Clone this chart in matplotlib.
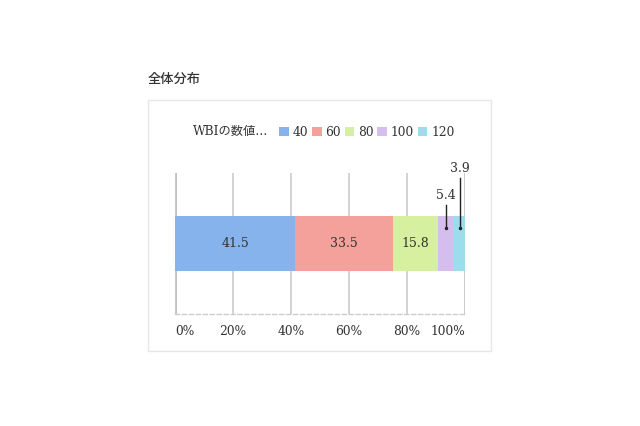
import matplotlib.pyplot as plt
from matplotlib.patches import Rectangle

plt.rcParams["font.family"] = ["DejaVu Serif", "Noto Sans CJK JP"]

# data
categories = ["40", "60", "80", "100", "120"]
values = [41.5, 33.5, 15.8, 5.4, 3.9]
colors = ["#86b3eb", "#f4a19b", "#d7f0a0", "#d5bdee", "#9ddcec"]
tick_labels = ["0%", "20%", "40%", "60%", "80%", "100%"]
title = "全体分布"
legend_title = "WBIの数値…"

fig = plt.figure(figsize=(6.4, 4.26), dpi=100)

# card frame
fig.patches.append(Rectangle((148 / 640, 1 - 351 / 426), 343 / 640, 251 / 426,
                             transform=fig.transFigure, fill=False,
                             edgecolor="#e6e6e6", linewidth=1))
fig.text(148 / 640, 1 - 79 / 426, title, fontsize=9.5, color="#333333",
         family=["Noto Sans CJK JP"], fontweight="medium", va="center")

ax = fig.add_axes([175 / 640, 1 - 314 / 426, 290 / 640, 141 / 426])
ax.set_xlim(0, 100)
ax.set_ylim(0, 1)

left = 0
for cat, val, col in zip(categories, values, colors):
    ax.barh(0.5, val, left=left, height=0.39, color=col, label=cat, zorder=3)
    center = left + val / 2
    if val > 10:
        ax.text(center, 0.5, f"{val}", ha="center", va="center", fontsize=9,
                color="#333333", zorder=4)
    left += val

# labels for small segments with leader lines
left_small = values[0] + values[1] + values[2]
c1 = left_small + values[3] / 2
c2 = left_small + values[3] + values[4] / 2
ax.plot([c1, c1], [0.61, 0.775], color="#222222", lw=1, zorder=5, clip_on=False)
ax.plot([c1], [0.61], marker="o", ms=1.5, color="#222222", zorder=5)
ax.text(c1, 0.84, f"{values[3]}", ha="center", va="center", fontsize=9, color="#333333")
ax.plot([c2, c2], [0.61, 0.965], color="#222222", lw=1, zorder=5, clip_on=False)
ax.plot([c2], [0.61], marker="o", ms=1.5, color="#222222", zorder=5, clip_on=False)
ax.text(c2, 1.03, f"{values[4]}", ha="center", va="center", fontsize=9,
        color="#333333", clip_on=False)

ticks = [0, 20, 40, 60, 80, 100]
ax.set_xticks(ticks)
ax.set_xticklabels(tick_labels, fontsize=8.8, color="#333333")
labels = ax.get_xticklabels()
labels[0].set_ha("left")
labels[-1].set_ha("right")
ax.tick_params(axis="x", length=0, pad=8)
ax.set_yticks([])
ax.grid(axis="x", color="#cccccc", linewidth=1.2, zorder=0)
for side in ["top", "right", "left"]:
    ax.spines[side].set_visible(False)
ax.axvline(0, color="#bbbbbb", lw=2, zorder=1)
ax.axvline(100, color="#bbbbbb", lw=2, zorder=1)
ax.spines["bottom"].set_color("#cccccc")
ax.spines["bottom"].set_linestyle((0, (3, 2)))
ax.spines["bottom"].set_linewidth(1)

fig.text(193 / 640, 1 - 132 / 426, legend_title, fontsize=8.8, color="#333333",
         va="center", ha="left")
ax.legend(loc="center left", bbox_to_anchor=(273 / 640, 1 - 132 / 426),
          bbox_transform=fig.transFigure, ncol=5, frameon=False,
          handlelength=0.8, handleheight=0.8, handletextpad=0.3,
          columnspacing=0.3, fontsize=8.8, borderpad=0, labelcolor="#333333")

fig.savefig("out.png", dpi=100)
